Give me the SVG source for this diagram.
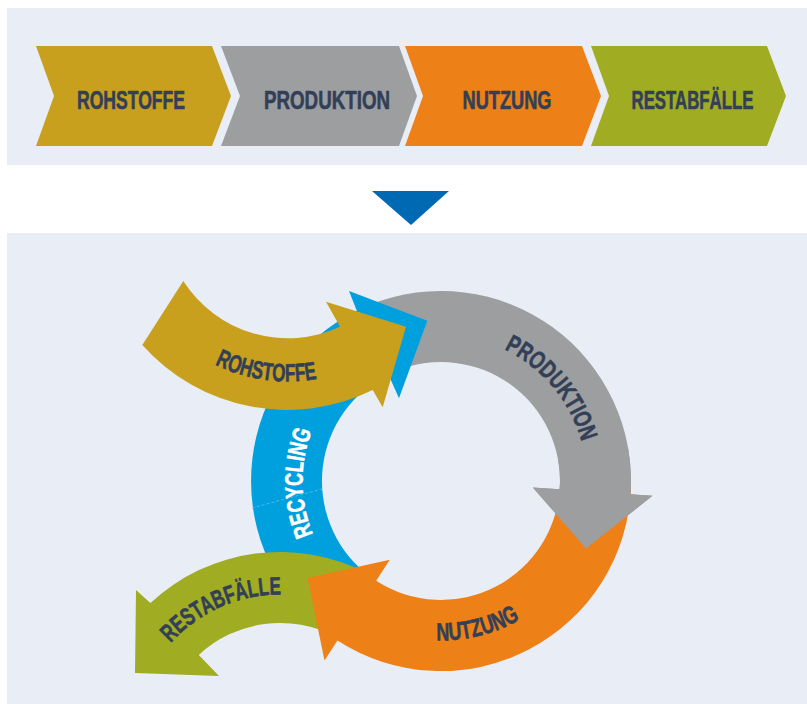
<svg xmlns="http://www.w3.org/2000/svg" width="807" height="704" viewBox="0 0 807 704">
<style>
.lbl{font-family:"Liberation Sans Narrow","Liberation Sans",Arial,sans-serif;font-weight:bold;font-size:25px;fill:#323f57;stroke:#323f57;stroke-width:0.6px;stroke-linejoin:round}
.top{font-size:25px}
.wt{fill:#ffffff;stroke:#ffffff}
.gold{fill:#c8a01e}
.gray{fill:#9d9ea0}
.orange{fill:#ee8018}
.green{fill:#a0ac22}
.blue{fill:#00a0df}
.panel{fill:#e9eef6}
</style>
<defs>
<path id="pRoh" d="M146.4,303 A167,167 0 0 0 399.7,338.6"/>
<path id="pPro" d="M415.7,337.2 A146,146 0 0 1 578.2,530.9"/>
<path id="pNut" d="M326.3,591.8 A159.5,159.5 0 0 0 594.3,525"/>
<path id="pRec" d="M373.4,601.9 A138.5,138.5 0 0 1 370.1,362"/>
<path id="pRes" d="M133.4,725.8 A147.5,147.5 0 0 1 367.3,623.1"/>
</defs>
<rect x="0" y="0" width="807" height="704" fill="#ffffff"/>
<rect class="panel" x="7" y="8" width="800" height="157"/>
<rect class="panel" x="7" y="233" width="800" height="471"/>

<g id="chev-rohstoffe">
<polygon class="gold" points="36,46 212,46 231,96 212,146 36,146 54,96"/>
<text class="lbl top" transform="translate(131,109) scale(0.854,1)" x="0" y="0" text-anchor="middle" textLength="126.5" lengthAdjust="spacingAndGlyphs">ROHSTOFFE</text>
</g>
<g id="chev-produktion">
<polygon class="gray" points="221,46 399,46 417,96 399,146 221,146 240,96"/>
<text class="lbl top" transform="translate(327,109) scale(0.914,1)" x="0" y="0" text-anchor="middle" textLength="137.9" lengthAdjust="spacingAndGlyphs">PRODUKTION</text>
</g>
<g id="chev-nutzung">
<polygon class="orange" points="405,46 582,46 601,96 582,146 405,146 423,96"/>
<text class="lbl top" transform="translate(507,109) scale(0.887,1)" x="0" y="0" text-anchor="middle" textLength="100.3" lengthAdjust="spacingAndGlyphs">NUTZUNG</text>
</g>
<g id="chev-restabfaelle">
<polygon class="green" points="591,46 767,46 786,96 767,146 591,146 609,96"/>
<text class="lbl top" transform="translate(692.5,109) scale(0.811,1)" x="0" y="0" text-anchor="middle" textLength="150.4" lengthAdjust="spacingAndGlyphs">RESTABFÄLLE</text>
</g>

<g id="connectors">
<polygon points="372,191 449,191 411,225" fill="#0069b4"/>
</g>

<g id="ring-produktion">
<path class="gray" d="M369.8,304.8 A190,190 0 0 1 630.5,494.3 L652.5,495.8 L586,548.6 L532.8,487.4 L559.7,489.3 A119,119 0 0 0 396.4,370.7 Z"/>
</g>
<g id="ring-recycling">
<path class="blue" d="M318.9,626.5 A190,190 0 0 1 356.8,310.7 L349,291 L427.3,320.7 L399,398.3 L388.3,374.3 A119,119 0 0 0 364.5,572.2 Z"/>
<line x1="252" y1="508" x2="322" y2="489" stroke="#5cc0ec" stroke-width="0.8" stroke-dasharray="3 2"/>
<text class="lbl wt"><textPath href="#pRec" startOffset="50%" text-anchor="middle" textLength="106" lengthAdjust="spacingAndGlyphs">RECYCLING</textPath></text>
</g>
<g id="ring-restabfaelle">
<path class="green" d="M150.4,603 A190,190 0 0 1 369.2,574.2 L335.9,636.9 A119,119 0 0 0 198.8,655 L219,676 L135,673 L136,590 Z"/>
<text class="lbl"><textPath href="#pRes" startOffset="50%" text-anchor="middle" textLength="124" lengthAdjust="spacingAndGlyphs">RESTABFÄLLE</textPath></text>
</g>
<g id="ring-nutzung">
<path class="orange" d="M630.9,487.6 A190,190 0 0 1 337.5,640.4 L324.5,660.5 L307.5,578 L389.8,559.8 L376.2,580.8 A119,119 0 0 0 559.9,485.2 Z"/>
<text class="lbl"><textPath href="#pNut" startOffset="50%" text-anchor="middle" textLength="87" lengthAdjust="spacingAndGlyphs">NUTZUNG</textPath></text>
</g>
<g id="ring-produktion-head">
<path class="gray" d="M628.1,448 A190,190 0 0 1 630.5,494.3 L652.5,495.8 L586,548.6 L532.8,487.4 L559.7,489.3 A119,119 0 0 0 558.2,460.3 Z"/>
<text class="lbl"><textPath href="#pPro" startOffset="50%" text-anchor="middle" textLength="124" lengthAdjust="spacingAndGlyphs">PRODUKTION</textPath></text>
</g>
<g id="ring-rohstoffe">
<path class="gold" d="M183.3,281 A124,124 0 0 0 340,326.7 L326,301.7 L406,326.7 L382.7,407.3 L372.7,390 A194,194 0 0 1 142.3,345 Z"/>
<text class="lbl"><textPath href="#pRoh" startOffset="50%" text-anchor="middle" textLength="105" lengthAdjust="spacingAndGlyphs">ROHSTOFFE</textPath></text>
</g>
</svg>
